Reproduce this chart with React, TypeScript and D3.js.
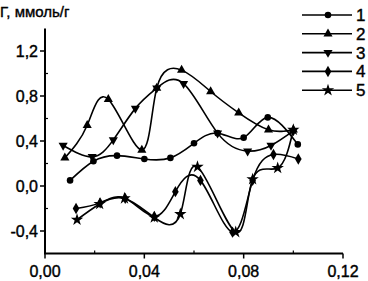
import React from "react";
import * as d3 from "d3";

const xTicks = [0, 0.04, 0.08, 0.12];
const xTickLabels = ["0,00", "0,04", "0,08", "0,12"];
const xMinor = [0.02, 0.06, 0.1];
const yTicks = [-0.4, 0, 0.4, 0.8, 1.2];
const yTickLabels = ["-0,4", "0,0", "0,4", "0,8", "1,2"];
const yMinor = [-0.2, 0.2, 0.6, 1.0];
const seriesNames = ["1", "2", "3", "4", "5"];

const s1x = [0.0101, 0.0195, 0.029, 0.040, 0.0505, 0.060, 0.0695, 0.080, 0.0897, 0.1018];
const s1y = [0.05, 0.22, 0.27, 0.24, 0.25, 0.38, 0.47, 0.43, 0.61, 0.37];
const s2x = [0.008, 0.017, 0.0255, 0.039, 0.045, 0.055, 0.0667, 0.078, 0.090, 0.100];
const s2y = [0.25, 0.54, 0.77, 0.32, 0.87, 1.03, 0.84, 0.65, 0.50, 0.50];
const s3x = [0.0073, 0.019, 0.0275, 0.0364, 0.045, 0.0558, 0.0695, 0.0816, 0.091, 0.100];
const s3y = [0.36, 0.26, 0.41, 0.69, 0.87, 0.91, 0.47, 0.31, 0.36, 0.49];
const s4x = [0.0125, 0.0222, 0.0323, 0.044, 0.0525, 0.0626, 0.0755, 0.0836, 0.092, 0.102];
const s4y = [-0.20, -0.15, -0.11, -0.27, -0.05, 0.05, -0.41, 0.05, 0.28, 0.24];
const s5x = [0.0129, 0.022, 0.032, 0.044, 0.0545, 0.0614, 0.0768, 0.0836, 0.0937, 0.100];
const s5y = [-0.30, -0.16, -0.11, -0.28, -0.25, 0.17, -0.41, 0.06, 0.16, 0.50];

const allX = [s1x, s2x, s3x, s4x, s5x];
const allY = [s1y, s2y, s3y, s4y, s5y];

const W = 368, H = 281;
const x = d3.scaleLinear().domain([0, 0.12]).range([45, 343]);
const y = d3.scaleLinear().domain([-0.6, 1.4]).range([253.5, 28.5]);

function markerPath(i: number): string {
  const sym = [
    d3.symbolCircle,
    d3.symbolTriangle,
    d3.symbolTriangle,
    d3.symbolDiamond,
    d3.symbolStar,
  ][i];
  const size = [34, 36, 36, 38, 48][i];
  return d3.symbol().type(sym).size(size)() || "";
}

export default function App() {
  const line = d3
    .line<[number, number]>()
    .x((d) => x(d[0]))
    .y((d) => y(d[1]))
    .curve(d3.curveNatural);
  const font = "'Liberation Sans', Arial, sans-serif";
  const axisBottom = y(-0.6);
  const txtStroke = { stroke: "#000", strokeWidth: 0.4 };
  return (
    <svg width={W} height={H} style={{ position: "absolute", left: 0, top: 0, background: "#fff" }}>
      <rect width={W} height={H} fill="#fff" />
      <line x1={x(0)} x2={x(0)} y1={y(1.4)} y2={axisBottom} stroke="#000" strokeWidth={2} />
      <line x1={x(0) - 1} x2={x(0.12)} y1={axisBottom} y2={axisBottom} stroke="#000" strokeWidth={2} />
      {yTicks.map((t, i) => (
        <g key={"yt" + i}>
          <line x1={x(0) - 5} x2={x(0)} y1={y(t)} y2={y(t)} stroke="#000" strokeWidth={1.5} />
          <text x={38} y={y(t) + 6} textAnchor="end" fontFamily={font} fontSize={16} fill="#000" {...txtStroke}>
            {yTickLabels[i]}
          </text>
        </g>
      ))}
      {yMinor.map((t, i) => (
        <line key={"ym" + i} x1={x(0)} x2={x(0) + 3} y1={y(t)} y2={y(t)} stroke="#000" strokeWidth={1.2} />
      ))}
      {xTicks.map((t, i) => (
        <g key={"xt" + i}>
          <line x1={x(t)} x2={x(t)} y1={axisBottom} y2={axisBottom + 5} stroke="#000" strokeWidth={1.5} />
          <text x={x(t)} y={277} textAnchor="middle" fontFamily={font} fontSize={16} fill="#000" {...txtStroke}>
            {xTickLabels[i]}
          </text>
        </g>
      ))}
      {xMinor.map((t, i) => (
        <line key={"xm" + i} x1={x(t)} x2={x(t)} y1={axisBottom} y2={axisBottom - 3} stroke="#000" strokeWidth={1.2} />
      ))}
      <text x={0} y={17} fontFamily={font} fontSize={15} fill="#000" {...txtStroke}>
        Г, ммоль/г
      </text>
      {allX.map((xs, si) => {
        const pts: [number, number][] = xs.map((v, j) => [v, allY[si][j]]);
        const mp = markerPath(si);
        return (
          <g key={"s" + si}>
            <path d={line(pts) || ""} fill="none" stroke="#000" strokeWidth={1.6} />
            {pts.map((p, j) => (
              <path
                key={j}
                d={mp}
                transform={`translate(${x(p[0])},${y(p[1])})${si === 2 ? " rotate(180)" : ""}`}
                fill="#000"
              />
            ))}
          </g>
        );
      })}
      {seriesNames.map((n, i) => {
        const ly = 15 + i * 18.8;
        return (
          <g key={"lg" + i}>
            <line x1={302} x2={352} y1={ly} y2={ly} stroke="#000" strokeWidth={1.6} />
            <path d={markerPath(i)} transform={`translate(328,${ly})${i === 2 ? " rotate(180)" : ""}`} fill="#000" />
            <text x={356} y={ly + 6} fontFamily={font} fontSize={17} fill="#000" {...txtStroke}>
              {n}
            </text>
          </g>
        );
      })}
    </svg>
  );
}
